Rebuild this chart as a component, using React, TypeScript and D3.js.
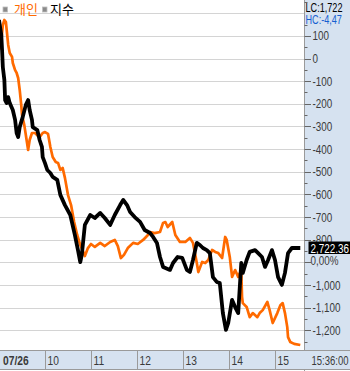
import React from 'react';
import * as d3 from 'd3';

const W = 350;
const H = 371;

// 개인 (individual investors) net buying, minutes after 09:00
const indivMin = [2, 5, 7, 9, 12, 14, 17, 18, 21, 23, 25, 27, 29, 30, 33, 35, 38, 40, 43, 47, 51, 53, 57, 60, 64, 67, 70, 74, 77, 80, 83, 86, 90, 94, 98, 102, 106, 110, 112, 116, 120, 125, 132, 138, 145, 151, 155, 159, 163, 168, 175, 181, 188, 193, 197, 203, 210, 214, 217, 220, 226, 230, 236, 243, 249, 253, 258, 260, 265, 269, 273, 278, 282, 286, 291, 295, 297, 301, 304, 308, 312, 316, 317, 318, 323, 327, 331, 337, 340, 344, 350, 353, 357, 363, 367, 370, 373, 376, 377, 380, 385, 393];
const indivVal = [40, 148, 170, 161, 60, 24, 7, -20, -51, -64, -86, -139, -205, -249, -294, -338, -404, -360, -329, -329, -342, -347, -329, -325, -333, -391, -435, -457, -461, -492, -483, -527, -603, -647, -722, -779, -823, -854, -872, -837, -819, -832, -814, -828, -810, -801, -828, -881, -867, -837, -814, -819, -801, -784, -766, -771, -766, -726, -722, -744, -722, -779, -810, -810, -792, -814, -903, -943, -898, -903, -890, -845, -854, -859, -881, -788, -801, -876, -964, -934, -964, -934, -1053, -1080, -1097, -1142, -1124, -1142, -1124, -1111, -1075, -1111, -1168, -1124, -1089, -1080, -1124, -1186, -1230, -1252, -1260, -1265];

// 지수 (index), minutes after 09:00
const indexMin = [0, 3, 4, 5, 7, 8, 10, 12, 14, 18, 21, 23, 25, 27, 31, 35, 38, 40, 43, 44, 50, 53, 56, 57, 60, 63, 67, 70, 76, 80, 86, 93, 99, 103, 106, 108, 112, 119, 125, 132, 138, 145, 151, 158, 162, 167, 171, 177, 184, 190, 197, 201, 206, 210, 214, 223, 227, 233, 239, 245, 249, 253, 258, 262, 266, 271, 275, 279, 284, 288, 292, 296, 299, 304, 308, 312, 316, 318, 323, 327, 334, 338, 343, 347, 351, 356, 360, 364, 369, 373, 377, 382, 393];
const indexVal = [2798.0, 2793.0, 2788.0, 2782.3, 2778.0, 2771.3, 2770.3, 2772.3, 2770.3, 2768.0, 2764.7, 2760.3, 2759.0, 2762.3, 2765.7, 2769.7, 2771.3, 2768.0, 2764.7, 2762.3, 2761.3, 2758.0, 2755.7, 2752.3, 2750.3, 2748.0, 2747.0, 2745.7, 2744.7, 2739.7, 2736.3, 2733.0, 2726.3, 2721.3, 2717.3, 2719.7, 2729.7, 2733.0, 2732.0, 2733.7, 2732.0, 2729.7, 2733.0, 2736.3, 2738.0, 2736.3, 2734.0, 2732.3, 2730.7, 2728.0, 2727.0, 2725.7, 2723.7, 2719.0, 2715.7, 2714.7, 2717.0, 2719.0, 2718.7, 2714.7, 2714.0, 2718.0, 2723.7, 2723.0, 2722.0, 2721.3, 2720.3, 2712.3, 2710.7, 2710.3, 2700.3, 2694.7, 2697.0, 2704.7, 2702.3, 2700.3, 2717.0, 2713.7, 2718.0, 2720.7, 2721.3, 2720.3, 2719.0, 2715.7, 2718.0, 2721.3, 2718.0, 2712.3, 2709.7, 2713.7, 2720.3, 2722.0, 2722.0];

const yTickValues = [100, 0, -100, -200, -300, -400, -500, -600, -700, -800, -900, -1000, -1100, -1200];
const hourLabels = ['10', '11', '12', '13', '14', '15'];
const hourMinutes = [60, 120, 180, 240, 300, 360];
const dateLabel = '07/26';
const timeLabel = '15:36:00';
const legendNames = ['개인', '지수'];
const lcText = 'LC:1,722';
const hcText = 'HC:-4,47';
const lastIndexText = '2,722.36';
const changeText = '0,00%';

const ORANGE = '#ff6a00';
const PANEL = '#d6e2f0';
const BORDER = '#9a9a9a';
const GRID = '#d4d4d4';
const TEXT = '#3a3a3a';
const NUM_FONT = "'Liberation Sans', Arial, sans-serif";
const KR_FONT = "'Noto Sans CJK KR', 'Noto Sans', sans-serif";
const SX = 0.76;

const PLOT_R = 304.5;
const PLOT_B = 351;

type NProps = { x: number; y: number; fill: string; size?: number; bold?: boolean; children: React.ReactNode };
function NText({ x, y, fill, size = 13, bold = false, children }: NProps) {
  return (
    <text
      transform={`translate(${x},${y}) scale(${SX},1)`}
      fontFamily={NUM_FONT}
      fontSize={size}
      fontWeight={bold ? 'bold' : 'normal'}
      fill={fill}
    >
      {children}
    </text>
  );
}

export default function App() {
  const x = d3.scaleLinear().domain([0, 396]).range([-1, -1 + (396 * 46) / 60]);
  const y = d3.scaleLinear().domain([0, -1200]).range([58.5, 330.3]);
  const yIdx = d3.scaleLinear().domain([2722, 2798]).range([248, 20]);

  const indivData = indivMin.map((m, i) => [m, indivVal[i]] as [number, number]);
  const indexData = indexMin.map((m, i) => [m, indexVal[i]] as [number, number]);

  const indivLine = d3.line<[number, number]>().x(d => x(d[0])).y(d => y(d[1]));
  const indexLine = d3.line<[number, number]>().x(d => x(d[0])).y(d => yIdx(d[1]));

  const fmt = d3.format(',');
  const gridValues = d3.range(200, -1201, -100);
  const minorValues = d3.range(250, -1300, -100);
  const lastY = yIdx(indexVal[indexVal.length - 1]);

  return (
    <svg width={W} height={H} style={{ position: 'absolute', left: 0, top: 0, background: '#fff' }}>
      <defs>
        <clipPath id="plotClip">
          <rect x={0} y={0} width={PLOT_R} height={PLOT_B} />
        </clipPath>
      </defs>
      {gridValues.map(v => (
        <line key={v} x1={0} x2={PLOT_R} y1={Math.round(y(v)) + 0.5} y2={Math.round(y(v)) + 0.5} stroke={GRID} strokeWidth={1} />
      ))}
      <g clipPath="url(#plotClip)">
        <path d={indivLine(indivData) || ''} fill="none" stroke={ORANGE} strokeWidth={2.7} strokeLinejoin="round" />
        <path d={indexLine(indexData) || ''} fill="none" stroke="#000" strokeWidth={3.8} strokeLinejoin="round" />
      </g>
      <rect x={3} y={7} width={4.5} height={5} fill="#8a8a8a" stroke="#bdbdbd" strokeWidth={0.8} />
      <text x={14} y={14} fontFamily={KR_FONT} fontSize={13} fill={ORANGE}>{legendNames[0]}</text>
      <rect x={42.5} y={7} width={4.5} height={5} fill="#8a8a8a" stroke="#bdbdbd" strokeWidth={0.8} />
      <text x={50} y={14} fontFamily={KR_FONT} fontSize={13} fill="#000">{legendNames[1]}</text>

      <rect x={PLOT_R} y={0} width={W - PLOT_R} height={PLOT_B} fill={PANEL} />
      <line x1={PLOT_R} x2={PLOT_R} y1={0} y2={H} stroke={BORDER} strokeWidth={1} />
      {minorValues.map(v => (
        <line key={'m' + v} x1={PLOT_R} x2={PLOT_R + 3} y1={Math.round(y(v)) + 0.5} y2={Math.round(y(v)) + 0.5} stroke="#666" strokeWidth={1} />
      ))}
      {yTickValues.map(v => (
        <line key={'t' + v} x1={PLOT_R} x2={PLOT_R + 6.5} y1={Math.round(y(v)) + 0.5} y2={Math.round(y(v)) + 0.5} stroke="#666" strokeWidth={1} />
      ))}
      {yTickValues.filter(v => v !== -900).map(v => (
        <NText key={'l' + v} x={312.5} y={y(v) + 4.5} fill={TEXT}>{fmt(v).replace('−', '-')}</NText>
      ))}
      <NText x={305.5} y={12} fill="#000" size={12}>{lcText}</NText>
      <NText x={305.5} y={23.5} fill="#1560d0" size={12}>{hcText}</NText>
      <rect x={308.5} y={lastY - 6.5} width={W - 308.5} height={12.5} fill="#000" />
      <NText x={310.5} y={lastY + 4.5} fill="#fff">{lastIndexText}</NText>
      <NText x={310.5} y={lastY + 17} fill={TEXT}>{changeText}</NText>

      <rect x={0} y={PLOT_B} width={W} height={369 - PLOT_B} fill={PANEL} />
      <line x1={0} x2={W} y1={PLOT_B - 0.5} y2={PLOT_B - 0.5} stroke={BORDER} strokeWidth={1} />
      <line x1={0} x2={W} y1={369.5} y2={369.5} stroke={BORDER} strokeWidth={1} />
      {hourMinutes.map((m, i) => (
        <g key={'h' + m}>
          <line x1={Math.round(x(m)) + 0.5} x2={Math.round(x(m)) + 0.5} y1={PLOT_B} y2={369} stroke={BORDER} strokeWidth={1} />
          <NText x={Math.round(x(m)) + 2.5} y={365} fill={TEXT} size={13.5}>{hourLabels[i]}</NText>
        </g>
      ))}
      <NText x={3} y={365} fill={TEXT} size={13.5} bold>{dateLabel}</NText>
      <NText x={311.5} y={365} fill={TEXT} size={12.5}>{timeLabel}</NText>
    </svg>
  );
}
